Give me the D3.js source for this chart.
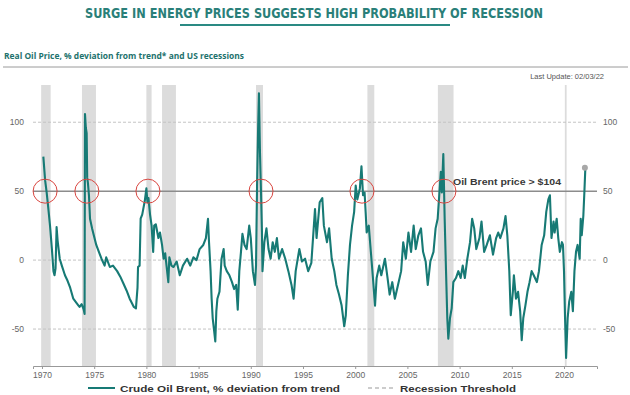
<!DOCTYPE html>
<html lang="en">
<head>
<meta charset="utf-8">
<title>Surge in energy prices</title>
<script src="https://d3js.org/d3.v7.min.js"></script>
<style>
  body { margin: 0; background: #fff; }
  svg { display: block; font-family: "Liberation Sans", Arial, sans-serif; }
  .grid { stroke: #c4c4c4; stroke-width: 1; stroke-dasharray: 3,2; }
  .tick-label { font-size: 8.5px; fill: #666; }
</style>
</head>
<body>
<svg width="630" height="395"></svg>
<script>
// Real Brent price, % deviation from trend
var brentSeries = [
  [1970.13, 75], [1970.3, 58], [1970.45, 49], [1970.6, 38], [1970.77, 25], [1970.95, 8],
  [1971.1, -8], [1971.2, -11], [1971.3, -6], [1971.4, 24], [1971.5, 14], [1971.7, 1],
  [1971.9, -4], [1972.2, -11], [1972.45, -15], [1972.7, -20], [1973.0, -28], [1973.3, -31],
  [1973.5, -33], [1973.6, -34], [1973.8, -32], [1974.0, -36], [1974.08, -39], [1974.12, 106],
  [1974.2, 96], [1974.28, 92], [1974.33, 60], [1974.4, 56], [1974.5, 47], [1974.6, 30],
  [1974.8, 23], [1975.0, 17], [1975.2, 11], [1975.45, 6], [1975.7, 1], [1976.0, -4],
  [1976.15, 2], [1976.5, -5], [1976.8, -4], [1977.2, -8], [1977.5, -12], [1977.8, -17],
  [1978.1, -22], [1978.4, -28], [1978.8, -34], [1979.0, -35], [1979.15, -20], [1979.2, -5],
  [1979.35, -4], [1979.45, 30], [1979.6, 33], [1979.7, 37], [1979.85, 43], [1980.0, 52],
  [1980.1, 42], [1980.2, 45], [1980.35, 33], [1980.5, 25], [1980.65, 6], [1980.75, 25],
  [1980.9, 26], [1981.15, 16], [1981.3, 20], [1981.5, 11], [1981.65, 1], [1981.8, 5],
  [1982.1, -16], [1982.2, 2], [1982.4, -4], [1982.6, -5], [1982.9, -1], [1983.2, -11],
  [1983.5, -4], [1983.9, 1], [1984.2, -4], [1984.5, 2], [1984.8, 0], [1985.1, 8],
  [1985.45, 11], [1985.7, 16], [1985.9, 30], [1986.0, 13], [1986.15, -8], [1986.25, -28],
  [1986.35, -42], [1986.5, -52], [1986.6, -59], [1986.7, -37], [1986.8, -28], [1987.0, -23],
  [1987.2, 1], [1987.4, 8], [1987.5, -4], [1987.7, -8], [1987.95, -11], [1988.2, -16],
  [1988.4, -21], [1988.6, -18], [1988.75, -36], [1988.9, -8], [1989.06, 6], [1989.2, 19],
  [1989.4, 11], [1989.6, 8], [1989.85, 25], [1990.0, 16], [1990.2, -8], [1990.4, -18],
  [1990.5, -4], [1990.6, 54], [1990.7, 95], [1990.78, 121], [1990.88, 78], [1990.98, 49],
  [1991.07, 20], [1991.12, -8], [1991.3, 13], [1991.5, 23], [1991.7, 8], [1991.9, 1],
  [1992.1, 13], [1992.3, 6], [1992.5, 16], [1992.7, 1], [1993.0, 8], [1993.3, 1],
  [1993.6, -8], [1993.9, -18], [1994.1, -28], [1994.3, -8], [1994.65, 8], [1994.9, -1],
  [1995.2, 1], [1995.5, -8], [1995.8, -2], [1996.15, 37], [1996.3, 16], [1996.6, 42],
  [1996.85, 45], [1997.0, 25], [1997.3, 13], [1997.5, 23], [1997.75, 1], [1998.0, -8],
  [1998.2, -18], [1998.45, -25], [1998.7, -33], [1998.95, -48], [1999.1, -40], [1999.3, -11],
  [1999.5, 11], [1999.7, 25], [1999.9, 35], [2000.05, 54], [2000.2, 44], [2000.45, 52],
  [2000.6, 68], [2000.75, 47], [2000.9, 49], [2001.0, 35], [2001.1, 20], [2001.3, 25],
  [2001.5, 6], [2001.7, -13], [2001.9, -33], [2002.05, -13], [2002.3, -4], [2002.5, -11],
  [2002.85, 1], [2003.1, -13], [2003.3, -25], [2003.55, -16], [2003.8, -28], [2004.1, -18],
  [2004.4, -8], [2004.6, 13], [2004.85, 1], [2005.1, 20], [2005.35, 6], [2005.6, 25],
  [2005.8, 8], [2006.05, 18], [2006.3, 23], [2006.5, 6], [2006.75, -1], [2006.95, -18],
  [2007.2, -1], [2007.5, 6], [2007.7, 23], [2007.9, 30], [2008.05, 47], [2008.2, 64],
  [2008.3, 49], [2008.44, 77], [2008.57, 30], [2008.7, -8], [2008.82, -42], [2008.92, -57],
  [2009.08, -42], [2009.24, -35], [2009.4, -16], [2009.65, -13], [2009.88, -8], [2010.1, -13],
  [2010.3, -4], [2010.5, -13], [2010.74, 1], [2011.0, 13], [2011.2, 30], [2011.4, 23],
  [2011.6, 8], [2011.9, 16], [2012.1, 28], [2012.35, 6], [2012.6, 11], [2012.9, 18],
  [2013.2, 4], [2013.5, 16], [2013.7, 20], [2013.9, 16], [2014.2, 23], [2014.4, 32],
  [2014.57, 18], [2014.76, -8], [2014.9, -40], [2015.1, -23], [2015.2, -11], [2015.4, -28],
  [2015.6, -23], [2015.8, -37], [2015.95, -58], [2016.1, -42], [2016.3, -33], [2016.5, -23],
  [2016.7, -16], [2016.9, -8], [2017.1, -11], [2017.4, -16], [2017.6, -8], [2017.86, 11],
  [2018.1, 18], [2018.3, 35], [2018.5, 44], [2018.65, 47], [2018.8, 16], [2019.0, 28],
  [2019.1, 20], [2019.3, 30], [2019.45, 16], [2019.6, 6], [2019.8, 13], [2019.9, 11],
  [2020.0, -8], [2020.1, -42], [2020.2, -71], [2020.35, -42], [2020.5, -30], [2020.7, -23],
  [2020.85, -37], [2021.0, -8], [2021.15, 6], [2021.3, 11], [2021.5, 1], [2021.6, 30],
  [2021.7, 18], [2021.85, 32], [2021.95, 49], [2022.04, 66]
];

// US recessions (NBER), as decimal years
var recessionStart = [1969.92, 1973.83, 1980.0, 1981.5, 1990.5, 2001.17, 2007.92, 2020.08];
var recessionEnd   = [1970.83, 1975.17, 1980.5, 1982.83, 1991.17, 2001.83, 2009.42, 2020.25];

var threshold = 50;
var signalYears = [1970.3, 1974.3, 1980.15, 1990.98, 2000.65, 2008.5];
var lastPoint = [2022.0, 67];

var xTicks = [1970, 1975, 1980, 1985, 1990, 1995, 2000, 2005, 2010, 2015, 2020];
var yTicks = [-50, 0, 50, 100];

var teal = "#177a75";

var svg = d3.select("svg");

// plot box
var plotL = 33, plotR = 597, plotT = 85, plotB = 366;

var x = d3.scaleLinear().domain([1969.14, 2023.16]).range([plotL, plotR]);
var y = d3.scaleLinear().domain([-76.8, 127]).range([plotB, plotT]);

// header
svg.append("text")
    .attr("x", 314).attr("y", 18)
    .attr("text-anchor", "middle")
    .attr("textLength", 458).attr("lengthAdjust", "spacingAndGlyphs")
    .style("font-family", "'DejaVu Sans Condensed', 'DejaVu Sans', sans-serif")
    .style("font-weight", "bold").style("font-size", "14px")
    .style("fill", "#2a7f79")
    .text("SURGE IN ENERGY PRICES SUGGESTS HIGH PROBABILITY OF RECESSION");

svg.append("line")
    .attr("x1", 180).attr("x2", 450).attr("y1", 25).attr("y2", 25)
    .style("stroke", "#2a8a83").style("stroke-width", 2);

svg.append("text")
    .attr("x", 4).attr("y", 59)
    .attr("textLength", 240).attr("lengthAdjust", "spacingAndGlyphs")
    .style("font-family", "'Open Sans', sans-serif")
    .style("font-weight", "bold").style("font-size", "9px")
    .style("fill", "#1d726d")
    .text("Real Oil Price, % deviation from trend* and US recessions");

svg.append("line")
    .attr("x1", 3).attr("x2", 628).attr("y1", 67).attr("y2", 67)
    .style("stroke", "#9a9a9a").style("stroke-width", 1);

svg.append("text")
    .attr("x", 604).attr("y", 79)
    .attr("text-anchor", "end")
    .style("font-size", "7.5px").style("fill", "#555")
    .text("Last Update: 02/03/22");

// recession bands
svg.append("g").selectAll("rect")
    .data(recessionStart)
    .join("rect")
    .attr("x", (d, i) => x(d))
    .attr("width", (d, i) => Math.max(1.5, x(recessionEnd[i]) - x(d)))
    .attr("y", plotT)
    .attr("height", plotB - plotT)
    .style("fill", "#dcdcdc");

// grid
svg.append("g").selectAll("line")
    .data(yTicks.filter(d => d != threshold))
    .join("line")
    .attr("class", "grid")
    .attr("x1", plotL).attr("x2", plotR)
    .attr("y1", d => y(d)).attr("y2", d => y(d));

svg.append("line")
    .attr("x1", plotL).attr("x2", plotR)
    .attr("y1", y(threshold)).attr("y2", y(threshold))
    .style("stroke", "#8c8c8c").style("stroke-width", 1.5);

// y labels both sides
svg.append("g").selectAll("text")
    .data(yTicks)
    .join("text")
    .attr("class", "tick-label")
    .attr("x", 24).attr("y", d => y(d) + 3)
    .attr("text-anchor", "end")
    .text(d => d);

svg.append("g").selectAll("text")
    .data(yTicks)
    .join("text")
    .attr("class", "tick-label")
    .attr("x", 603).attr("y", d => y(d) + 3)
    .text(d => d);

// x axis
var xAxis = svg.append("g")
    .attr("transform", "translate(0," + plotB + ")")
    .call(d3.axisBottom(x).tickValues(xTicks).tickFormat(d3.format("d")).tickSize(3).tickPadding(3));
xAxis.select(".domain").style("stroke", "#999");
xAxis.selectAll(".tick line").style("stroke", "#999");
xAxis.selectAll(".tick text")
    .style("font-family", "'Liberation Sans', Arial, sans-serif")
    .style("font-size", "8.5px").style("fill", "#666");

// series
var line = d3.line()
    .x(d => x(d[0]))
    .y(d => y(d[1]));

svg.append("path")
    .datum(brentSeries)
    .attr("d", line)
    .style("fill", "none")
    .style("stroke", teal)
    .style("stroke-width", 2.1)
    .style("stroke-linejoin", "round");

// signal circles
svg.append("g").selectAll("circle")
    .data(signalYears)
    .join("circle")
    .attr("cx", d => x(d))
    .attr("cy", y(threshold))
    .attr("r", 12)
    .style("fill", "none")
    .style("stroke", "#d9453f")
    .style("stroke-width", 1);

svg.append("circle")
    .attr("cx", x(lastPoint[0])).attr("cy", y(lastPoint[1]))
    .attr("r", 3)
    .style("fill", "#a8a8a8");

svg.append("text")
    .attr("x", 453).attr("y", 185)
    .attr("textLength", 108).attr("lengthAdjust", "spacingAndGlyphs")
    .style("font-size", "9px").style("font-weight", "bold")
    .style("fill", "#3a3a3a")
    .text("Oil Brent price > $104");

// legend
var legend = svg.append("g").attr("transform", "translate(0,388)");
legend.append("line")
    .attr("x1", 88).attr("x2", 115).attr("y1", 0).attr("y2", 0)
    .style("stroke", teal).style("stroke-width", 2);
legend.append("text")
    .attr("x", 120).attr("y", 3.5)
    .attr("textLength", 220).attr("lengthAdjust", "spacingAndGlyphs")
    .style("font-size", "9.5px").style("font-weight", "bold").style("fill", "#333")
    .text("Crude Oil Brent, % deviation from trend");
legend.append("line")
    .attr("x1", 368).attr("x2", 394).attr("y1", 0).attr("y2", 0)
    .style("stroke", "#999").style("stroke-width", 1.2).style("stroke-dasharray", "4,3");
legend.append("text")
    .attr("x", 400).attr("y", 3.5)
    .attr("textLength", 116).attr("lengthAdjust", "spacingAndGlyphs")
    .style("font-size", "9.5px").style("font-weight", "bold").style("fill", "#333")
    .text("Recession Threshold");
</script>
</body>
</html>
